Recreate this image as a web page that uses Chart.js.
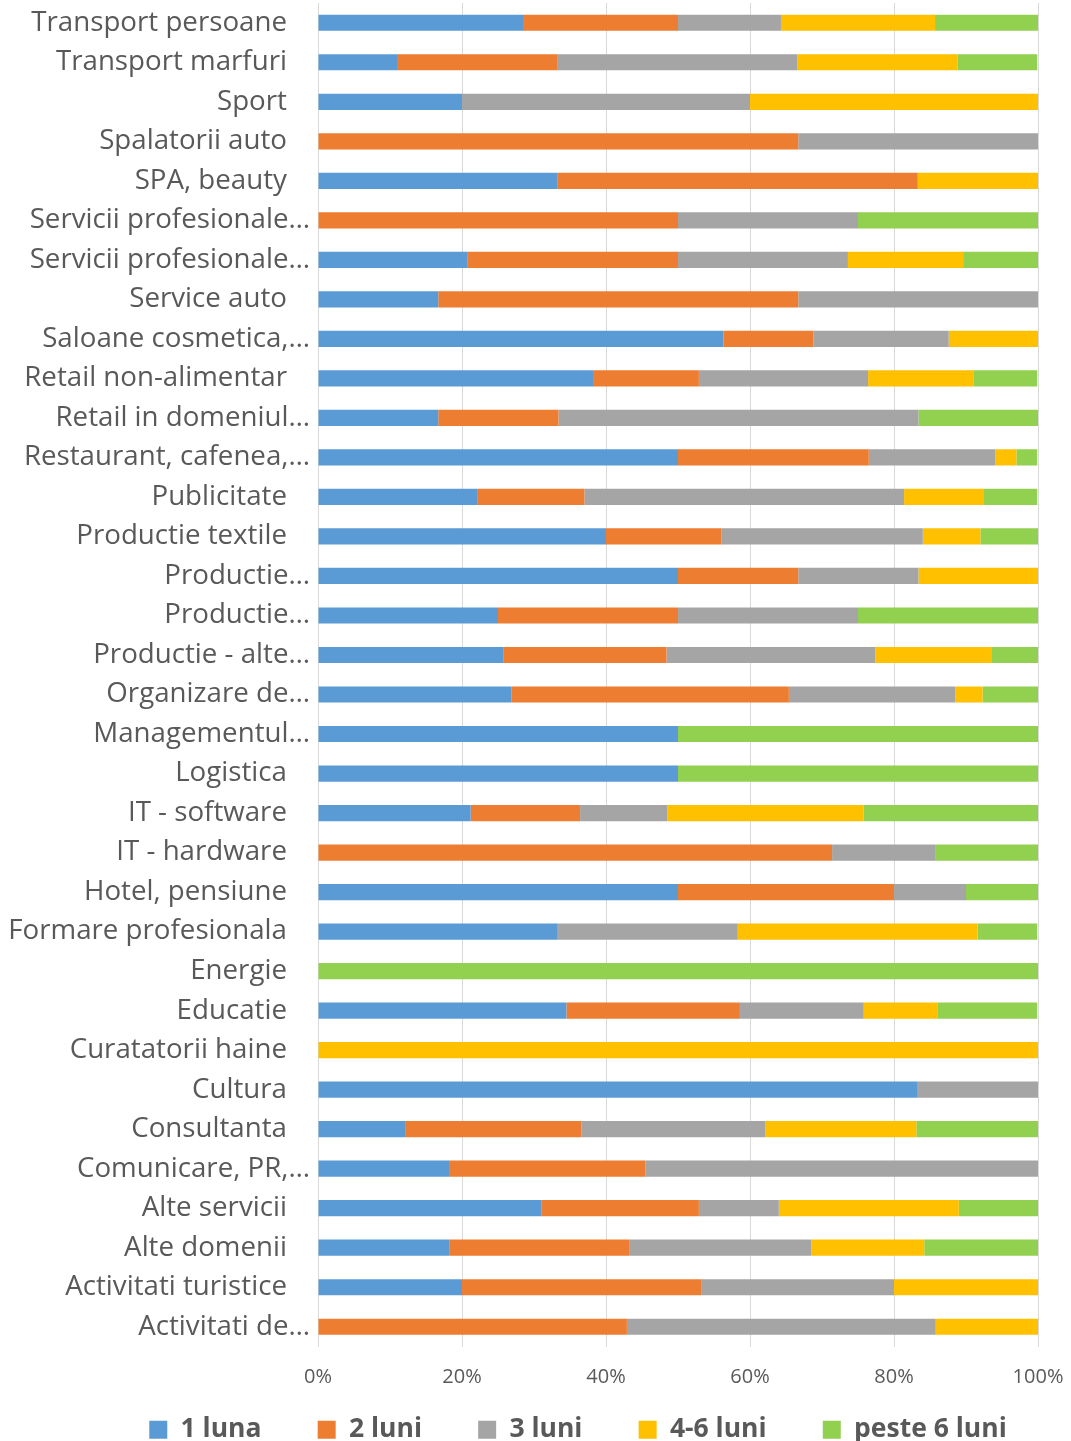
<!DOCTYPE html>
<html>
<head>
<meta charset="utf-8">
<script src="https://cdn.jsdelivr.net/npm/chart.js@4/dist/chart.umd.min.js"></script>
<style>
  body { margin: 0; background: #fff; }
  #wrap { width: 1071px; height: 1441px; overflow: hidden; }
  #box { width: 1071px; height: 1453px; position: relative; }
</style>
</head>
<body>
<div id="wrap"><div id="box"><canvas id="chart"></canvas></div></div>
<script>
// categories, top to bottom
const categories = ["Transport persoane", "Transport marfuri", "Sport", "Spalatorii auto", "SPA, beauty",
  "Servicii profesionale…", "Servicii profesionale…", "Service auto", "Saloane cosmetica,…",
  "Retail non-alimentar", "Retail in domeniul…", "Restaurant, cafenea,…", "Publicitate",
  "Productie textile", "Productie…", "Productie…", "Productie - alte…", "Organizare de…",
  "Managementul…", "Logistica", "IT - software", "IT - hardware", "Hotel, pensiune",
  "Formare profesionala", "Energie", "Educatie", "Curatatorii haine", "Cultura", "Consultanta",
  "Comunicare, PR,…", "Alte servicii", "Alte domenii", "Activitati turistice", "Activitati de…"];

const seriesNames = ["1 luna", "2 luni", "3 luni", "4-6 luni", "peste 6 luni"];

// shares in %
const luna1  = [28.6, 11.1, 20, 0, 33.3, 0, 20.8, 16.7, 56.3, 38.2, 16.7, 50, 22.2, 40, 50, 25, 25.8, 26.9, 50, 50, 21.2, 0, 50, 33.3, 0, 34.5, 0, 83.3, 12.2, 18.2, 31, 18.3, 20, 0];
const luni2  = [21.4, 22.2, 0, 66.7, 50, 50, 29.2, 50, 12.5, 14.7, 16.7, 26.5, 14.8, 16, 16.7, 25, 22.6, 38.5, 0, 0, 15.2, 71.4, 30, 0, 0, 24.1, 0, 0, 24.4, 27.3, 21.9, 25, 33.3, 42.9];
const luni3  = [14.3, 33.3, 40, 33.3, 0, 25, 23.6, 33.3, 18.8, 23.5, 50, 17.6, 44.4, 28, 16.7, 25, 29, 23.1, 0, 0, 12.1, 14.3, 10, 25, 0, 17.2, 0, 16.7, 25.5, 54.5, 11.1, 25.2, 26.7, 42.9];
const luni46 = [21.4, 22.2, 40, 0, 16.7, 0, 16, 0, 12.5, 14.7, 0, 2.9, 11.1, 8, 16.7, 0, 16.1, 3.8, 0, 0, 27.3, 0, 0, 33.3, 0, 10.3, 100, 0, 21, 0, 25, 15.7, 20, 14.3];
const peste6 = [14.3, 11.1, 0, 0, 0, 25, 10.4, 0, 0, 8.8, 16.7, 2.9, 7.4, 8, 0, 25, 6.5, 7.7, 50, 50, 24.2, 14.3, 10, 8.3, 100, 13.8, 0, 0, 16.9, 0, 11, 15.8, 0, 0];

const xTicks = [0, 20, 40, 60, 80, 100];

const colors = ['#5B9BD5', '#ED7D31', '#A5A5A5', '#FFC000', '#92D050'];
const allSeries = [luna1, luni2, luni3, luni46, peste6];

const datasets = allSeries.map(function (vals, i) {
  return {
    label: seriesNames[i],
    data: vals,
    backgroundColor: colors[i],
    borderWidth: 0,
    barPercentage: 1,
    categoryPercentage: 0.41
  };
});

Chart.defaults.font.family = "'Open Sans', sans-serif";

const AXIS_X = 318;
const LEGEND_SHIFT = 59;

// nudge the legend right, the way the original sits
const legendShift = {
  id: 'legendShift',
  afterLayout: function (chart) {
    chart.legend.left += LEGEND_SHIFT;
    chart.legend.right += LEGEND_SHIFT;
  }
};

new Chart(document.getElementById('chart'), {
  type: 'bar',
  data: { labels: categories, datasets: datasets },
  plugins: [legendShift],
  options: {
    indexAxis: 'y',
    responsive: true,
    maintainAspectRatio: false,
    animation: false,
    layout: { padding: { left: 0, right: 33, top: 3, bottom: 0 } },
    scales: {
      x: {
        stacked: true,
        min: 0,
        max: 100,
        afterBuildTicks: function (axis) {
          axis.ticks = xTicks.map(function (v) { return { value: v }; });
        },
        afterFit: function (scale) {
          scale.paddingLeft = 0;
          scale.paddingRight = 0;
        },
        grid: { color: '#D9D9D9', lineWidth: 1, drawTicks: false },
        border: { display: false },
        ticks: {
          padding: 19,
          color: '#595959',
          font: { size: 20 },
          callback: function (v) { return v + '%'; }
        }
      },
      y: {
        stacked: true,
        afterFit: function (scale) {
          scale.width = AXIS_X;
          scale.paddingTop = 0;
          scale.paddingBottom = 0;
        },
        grid: { display: false, drawTicks: false },
        border: { display: true, color: '#D9D9D9', width: 1 },
        ticks: {
          autoSkip: false,
          padding: 8,
          color: '#595959',
          font: { size: 27.7 },
          callback: function (v, i) {
            const t = categories[i];
            // whole labels sit a bit further from the axis than cut ones
            return t.endsWith('…') ? t : t + '\u2002\u2009\u2009';
          }
        }
      }
    },
    plugins: {
      legend: {
        position: 'bottom',
        labels: {
          color: '#595959',
          font: { size: 26.5, weight: 'bold' },
          boxWidth: 18,
          boxHeight: 18,
          padding: 8,
          generateLabels: function (chart) {
            const items = Chart.defaults.plugins.legend.labels.generateLabels(chart);
            items.forEach(function (it, i) {
              if (i < items.length - 1) it.text = it.text + '       ';
            });
            return items;
          }
        }
      },
      tooltip: { enabled: false }
    }
  }
});
</script>
</body>
</html>
